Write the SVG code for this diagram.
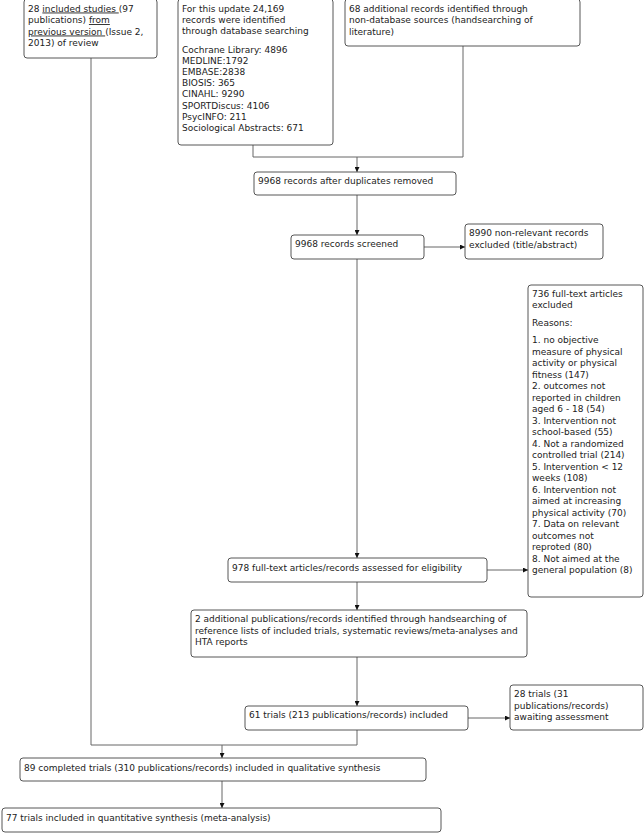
<svg xmlns="http://www.w3.org/2000/svg" width="644" height="834" viewBox="0 0 644 834">
<style>
.box{fill:#fff;stroke:#444;stroke-width:0.9}
.t{font-family:"DejaVu Sans",Verdana,sans-serif;font-size:9px;fill:#222}
.ln{fill:none;stroke:#666;stroke-width:1}
.u{text-decoration:underline}
</style>
<defs>
<marker id="ah" viewBox="0 0 6 6" refX="6" refY="3" markerWidth="5" markerHeight="5" orient="auto" markerUnits="userSpaceOnUse">
<path d="M0,0 L6,3 L0,6 z" fill="#111"/>
</marker>
</defs>
<rect width="644" height="834" fill="#fff"/>
<g id="connectors">
<polyline class="ln" points="253,145 253,157 463,157 463,46"/>
<line class="ln" x1="357" y1="157" x2="357" y2="172" marker-end="url(#ah)"/>
<line class="ln" x1="357" y1="195" x2="357" y2="235" marker-end="url(#ah)"/>
<line class="ln" x1="424" y1="247" x2="465" y2="247" marker-end="url(#ah)"/>
<line class="ln" x1="357" y1="259" x2="357" y2="558" marker-end="url(#ah)"/>
<line class="ln" x1="487" y1="570" x2="528" y2="570" marker-end="url(#ah)"/>
<line class="ln" x1="357" y1="582" x2="357" y2="610" marker-end="url(#ah)"/>
<line class="ln" x1="357" y1="657" x2="357" y2="706" marker-end="url(#ah)"/>
<line class="ln" x1="468" y1="718" x2="510" y2="718" marker-end="url(#ah)"/>
<polyline class="ln" points="91,58 91,745 357,745 357,730"/>
<line class="ln" x1="222" y1="745" x2="222" y2="758" marker-end="url(#ah)"/>
<line class="ln" x1="222" y1="781" x2="222" y2="808" marker-end="url(#ah)"/>
</g>
<g id="prev">
<rect class="box" x="24" y="-1" width="133" height="59" rx="3"/>
<text class="t" x="28" y="11.5">28 <tspan class="u">included studies </tspan>(97</text>
<text class="t" x="28" y="23">publications) <tspan class="u">from</tspan></text>
<text class="t" x="28" y="34.5"><tspan class="u">previous version </tspan>(Issue 2,</text>
<text class="t" x="28" y="46">2013) of review</text>
</g>
<g id="db">
<rect class="box" x="178" y="-1" width="155" height="146" rx="3"/>
<text class="t" x="182" y="11.5">For this update 24,169</text>
<text class="t" x="182" y="22.5">records were identified</text>
<text class="t" x="182" y="33.5">through database searching</text>
<text class="t" x="182" y="53">Cochrane Library: 4896</text>
<text class="t" x="182" y="64.1">MEDLINE:1792</text>
<text class="t" x="182" y="75.2">EMBASE:2838</text>
<text class="t" x="182" y="86.3">BIOSIS: 365</text>
<text class="t" x="182" y="97.4">CINAHL: 9290</text>
<text class="t" x="182" y="108.5">SPORTDiscus: 4106</text>
<text class="t" x="182" y="119.6">PsycINFO: 211</text>
<text class="t" x="182" y="130.7">Sociological Abstracts: 671</text>
</g>
<g id="nondb">
<rect class="box" x="345" y="-1" width="235" height="47" rx="3"/>
<text class="t" x="349" y="11.5">68 additional records identified through</text>
<text class="t" x="349" y="23">non-database sources (handsearching of</text>
<text class="t" x="349" y="34.5">literature)</text>
</g>
<g id="dup">
<rect class="box" x="254" y="172" width="202" height="23" rx="3"/>
<text class="t" x="258" y="184">9968 records after duplicates removed</text>
</g>
<g id="screened">
<rect class="box" x="291" y="235" width="133" height="24" rx="3"/>
<text class="t" x="295" y="247">9968 records screened</text>
</g>
<g id="excl1">
<rect class="box" x="465" y="224" width="138" height="35" rx="3"/>
<text class="t" x="469" y="236">8990 non-relevant records</text>
<text class="t" x="469" y="247.5">excluded (title/abstract)</text>
</g>
<g id="excl2">
<rect class="box" x="528" y="285" width="115" height="312" rx="3"/>
<text class="t" x="532" y="297">736 full-text articles</text>
<text class="t" x="532" y="308">excluded</text>
<text class="t" x="532" y="325.5">Reasons:</text>
<text class="t" x="532" y="343">1. no objective</text>
<text class="t" x="532" y="354.5">measure of physical</text>
<text class="t" x="532" y="366">activity or physical</text>
<text class="t" x="532" y="377.5">fitness (147)</text>
<text class="t" x="532" y="389">2. outcomes not</text>
<text class="t" x="532" y="400.5">reported in children</text>
<text class="t" x="532" y="412">aged 6 - 18 (54)</text>
<text class="t" x="532" y="423.5">3. Intervention not</text>
<text class="t" x="532" y="435">school-based (55)</text>
<text class="t" x="532" y="446.5">4. Not a randomized</text>
<text class="t" x="532" y="458">controlled trial (214)</text>
<text class="t" x="532" y="469.5">5. Intervention &lt; 12</text>
<text class="t" x="532" y="481">weeks (108)</text>
<text class="t" x="532" y="492.5">6. Intervention not</text>
<text class="t" x="532" y="504">aimed at increasing</text>
<text class="t" x="532" y="515.5">physical activity (70)</text>
<text class="t" x="532" y="527">7. Data on relevant</text>
<text class="t" x="532" y="538.5">outcomes not</text>
<text class="t" x="532" y="550">reproted (80)</text>
<text class="t" x="532" y="561.5">8. Not aimed at the</text>
<text class="t" x="532" y="573">general population (8)</text>
</g>
<g id="fulltext">
<rect class="box" x="228" y="558" width="259" height="24" rx="3"/>
<text class="t" x="232" y="571">978 full-text articles/records assessed for eligibility</text>
</g>
<g id="additional">
<rect class="box" x="191" y="610" width="336" height="47" rx="3"/>
<text class="t" x="195" y="622">2 additional publications/records identified through handsearching of</text>
<text class="t" x="195" y="633.5">reference lists of included trials, systematic reviews/meta-analyses and</text>
<text class="t" x="195" y="645">HTA reports</text>
</g>
<g id="included">
<rect class="box" x="245" y="706" width="223" height="24" rx="3"/>
<text class="t" x="249" y="718">61 trials (213 publications/records) included</text>
</g>
<g id="awaiting">
<rect class="box" x="510" y="685" width="133" height="45" rx="3"/>
<text class="t" x="514" y="697">28 trials (31</text>
<text class="t" x="514" y="708.5">publications/records)</text>
<text class="t" x="514" y="720">awaiting assessment</text>
</g>
<g id="qualitative">
<rect class="box" x="20" y="758" width="406" height="23" rx="3"/>
<text class="t" x="24" y="771">89 completed trials (310 publications/records) included in qualitative synthesis</text>
</g>
<g id="quantitative">
<rect class="box" x="2" y="808" width="439" height="24" rx="3"/>
<text class="t" x="6" y="821">77 trials included in quantitative synthesis (meta-analysis)</text>
</g>
</svg>
